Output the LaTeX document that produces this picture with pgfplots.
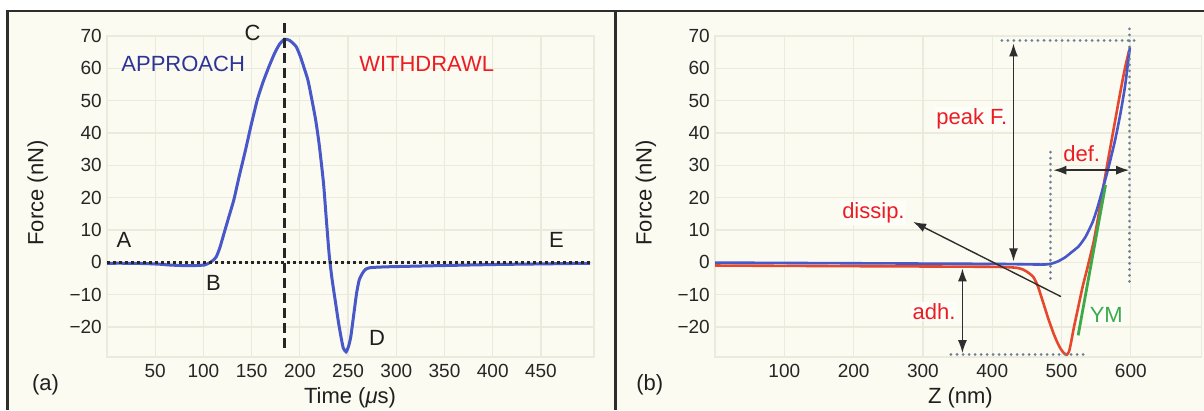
\documentclass[border=0pt]{standalone}
\usepackage{fontspec}
\setmainfont{Liberation Sans}
\usepackage{pgfplots}
\pgfplotsset{compat=1.18}
\usetikzlibrary{arrows.meta}
\definecolor{bgc}{RGB}{251,251,241}
\definecolor{gridc}{RGB}{234,234,221}
\definecolor{framec}{RGB}{45,45,45}
\definecolor{bluec}{RGB}{72,88,200}
\definecolor{txtblue}{RGB}{46,52,150}
\definecolor{redtxt}{RGB}{237,28,36}
\definecolor{redc}{RGB}{230,72,45}
\definecolor{greenc}{RGB}{60,170,75}
\definecolor{dotc}{RGB}{110,126,150}
\definecolor{boxc}{RGB}{254,254,249}
\newcommand{\fs}[1]{\fontsize{#1}{#1}\selectfont}
\pgfplotsset{
  panel/.style={
    anchor=south west, scale only axis, height=321pt,
    ymin=-29.3, ymax=70,
    ytick={-20,-10,0,10,20,30,40,50,60,70},
    yticklabels={−20,−10,0,10,20,30,40,50,60,70},
    grid=major, major grid style={gridc, line width=1.2pt},
    axis line style={draw=gridc, line width=1.2pt},
    major tick length=0pt,
    tick label style={font=\fs{19}, text=black!85},
    yticklabel style={anchor=east, inner sep=0pt, xshift=-5pt},
    xticklabel style={anchor=center, inner sep=0pt, yshift=-13.5pt},
    clip=false,
  },
}
\tikzset{
  lab/.style={font=\fs{22}, inner sep=1.5pt, text=black!88},
  arr/.style={draw=black!82, line width=1.4pt, {Latex[length=13pt,width=9pt]}-{Latex[length=13pt,width=9pt]}},
  dots/.style={draw=dotc, line width=3pt, line cap=round, dash pattern=on 0.01pt off 6pt},
}
\begin{document}
\begin{tikzpicture}[x=1pt,y=1pt]
\useasboundingbox (0,0) rectangle (1204,-410);
\fill[white] (0,0) rectangle (1204,-410);
\fill[bgc] (8,-11) rectangle (615,-410);
\fill[bgc] (617,-11) rectangle (1204,-410);
\draw[framec, line width=2.5pt] (7.5,-410) -- (7.5,-11) -- (1204,-11);
\draw[framec, line width=3pt] (615.8,-11) -- (615.8,-410);

% ---------------- panel (a)
\begin{axis}[panel, at={(107pt,-357pt)}, width=487pt,
  xmin=0, xmax=505,
  xtick={50,100,150,200,250,300,350,400,450},
  xticklabels={50,100,150,200,250,300,350,400,450}]
\addplot[bluec, line width=3pt, smooth, tension=0.35] coordinates {
(0,-0.3) (20,-0.3) (40,-0.4) (55,-0.6) (65,-0.85) (78,-1.0) (92,-1.0) (101,-0.85)
(104,-0.5) (107.3,0) (110,0.6) (113.4,1.75) (117,4.5) (121.4,9) (126,13.7)
(131.5,19.3) (137,26.5) (143.6,34.7) (149.5,42.5) (155.8,50.2) (161.5,55.5)
(167.9,60.5) (174,64.8) (179,67.5) (184,69) (189,68.7) (192,68) (196.2,66.7)
(200.5,63.7) (204,60.5) (208.3,56.4) (212,51) (216.4,44) (220,36.5) (224.5,24.5)
(227.5,13) (230.5,2) (233.5,-5.5) (236.6,-11.7) (240,-18.5) (242.6,-23)
(245,-26.5) (247.9,-27.7) (250.5,-26) (252.8,-23) (255.5,-17) (258.8,-9.6)
(261.5,-5.5) (264.9,-3.4) (268,-2.2) (272.9,-1.65) (290,-1.4) (333.5,-1.1)
(400,-0.7) (450,-0.5) (501,-0.3)};
\draw[black!85, line width=2.5pt, dash pattern=on 3pt off 3pt] (axis cs:0,0) -- (axis cs:502,0);
\draw[black!85, line width=2.2pt, dash pattern=on 10pt off 5pt] (axis cs:184,74) -- (axis cs:184,-26.5);
\node[lab, text=txtblue] at (axis cs:79,61.5) {APPROACH};
\node[lab, text=redtxt] at (axis cs:331.5,61.5) {WITHDRAWL};
\node[lab] at (axis cs:151,70.8) {C};
\node[lab] at (axis cs:17.6,6.9) {A};
\node[lab] at (axis cs:110.5,-6.4) {B};
\node[lab] at (axis cs:280,-23.4) {D};
\node[lab] at (axis cs:466,6.9) {E};
\end{axis}
\node[lab, rotate=90] at (37.7,-193) {Force (nN)};
\node[lab] at (350,-398) {Time (\textit{μ}s)};
\node[lab] at (45.5,-385) {(a)};

% ---------------- panel (b)
\begin{axis}[panel, at={(715pt,-357pt)}, width=486.5pt,
  xmin=0, xmax=702,
  xtick={100,200,300,400,500,600},
  xticklabels={100,200,300,400,500,600}]
\addplot[redc, line width=2.6pt, smooth, tension=0.35] coordinates {
(0,-1.0) (200,-1.2) (400,-1.4) (435,-1.7) (445,-2.3) (452,-3.2) (459.5,-4.6)
(466,-7.5) (473.9,-12.7) (481,-17.5) (488.3,-21.9) (494,-24.8) (498,-26.5)
(503,-28) (507.6,-28.6) (511,-27.5) (514,-24.5) (518,-20) (523,-15) (530,-8)
(537,-2) (546,6) (553,14) (560.5,23.5) (567,31.5) (575,41) (583,50.5)
(591,59.5) (597.5,65.5)};
\addplot[bluec, line width=2.6pt, smooth, tension=0.35] coordinates {
(0,-0.1) (200,-0.3) (400,-0.5) (470,-0.7) (480,-0.6) (486,-0.4) (495,0.3)
(505,1.5) (515,3.2) (525,5) (535,8) (545,12.5) (552,17) (560.5,23.5)
(568,29.5) (577,37.5) (585,46) (592,55) (598.6,66.5)};
\addplot[greenc, line width=2.8pt] coordinates {(524,-22.6) (563.5,23.9)};
\draw[dots] (axis cs:414,68.7) -- (axis cs:608,68.7);
\draw[dots] (axis cs:598.6,72.2) -- (axis cs:598.6,-6);
\draw[dots] (axis cs:484.3,34.1) -- (axis cs:484.3,-5.4);
\draw[dots] (axis cs:340.5,-28.6) -- (axis cs:534.6,-28.6);
\draw[arr] (axis cs:430.7,67.7) -- (axis cs:430.7,0.3);
\draw[arr] (axis cs:357,-1.9) -- (axis cs:357,-28.1);
\draw[arr] (axis cs:488.2,28.5) -- (axis cs:597.6,28.5);
\draw[draw=black!82, line width=1.4pt, -{Latex[length=13pt,width=9pt]}] (axis cs:499.1,-10.6) -- (axis cs:285.9,12.5);
\node[lab, text=redtxt, fill=boxc] at (axis cs:370.6,44.5) {peak F.};
\node[lab, text=redtxt] at (axis cs:529.2,33.7) {def.};
\node[lab, text=redtxt, fill=boxc] at (axis cs:228.6,15.2) {dissip.};
\node[lab, text=redtxt, fill=boxc] at (axis cs:316,-15.3) {adh.};
\node[lab, text=greenc, fill=boxc] at (axis cs:564.6,-16.3) {YM};
\end{axis}
\node[lab, rotate=90] at (646,-193) {Force (nN)};
\node[lab] at (960.4,-398) {Z (nm)};
\node[lab] at (649.8,-385) {(b)};
\end{tikzpicture}
\end{document}
